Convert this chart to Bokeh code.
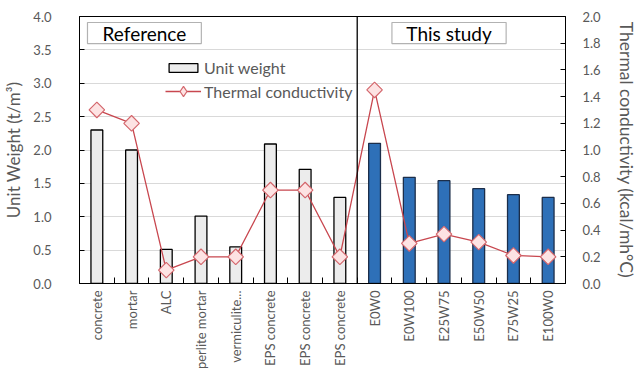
import math
from bokeh.plotting import figure
from bokeh.models import (Range1d, LinearAxis, FixedTicker, PrintfTickFormatter,
                          Span, BoxAnnotation, Label, Legend, LegendItem, ColumnDataSource)
from bokeh.embed import file_html
from bokeh.resources import INLINE

# ---------------- data ----------------
categories = ["concrete", "mortar", "ALC", "perlite mortar", "vermiculite...",
              "EPS concrete", "EPS concrete", "EPS concrete",
              "E0W0", "E0W100", "E25W75", "E50W50", "E75W25", "E100W0"]
groups = ["Reference"] * 8 + ["This study"] * 6
unit_weight = [2.30, 2.00, 0.51, 1.01, 0.55, 2.09, 1.71, 1.29,
               2.10, 1.59, 1.54, 1.42, 1.33, 1.29]
thermal_conductivity = [1.30, 1.20, 0.10, 0.20, 0.20, 0.70, 0.70, 0.20,
                        1.45, 0.30, 0.37, 0.31, 0.21, 0.20]
left_ticks = [0.0, 0.5, 1.0, 1.5, 2.0, 2.5, 3.0, 3.5, 4.0]
right_ticks = [0.0, 0.2, 0.4, 0.6, 0.8, 1.0, 1.2, 1.4, 1.6, 1.8, 2.0]
group_names = ["Reference", "This study"]
left_title = "Unit Weight (t/m\u00b3)"
right_title = "Thermal conductivity (kcal/mh\u00b0C)"

FONT = "Lato"
GREY = "#595959"

n = len(categories)
xs = [i + 0.5 for i in range(n)]

ref_idx = [i for i, g in enumerate(groups) if g == group_names[0]]
new_idx = [i for i, g in enumerate(groups) if g == group_names[1]]
ref_src = ColumnDataSource(dict(x=[xs[i] for i in ref_idx], top=[unit_weight[i] for i in ref_idx]))
new_src = ColumnDataSource(dict(x=[xs[i] for i in new_idx], top=[unit_weight[i] for i in new_idx]))
line_src = ColumnDataSource(dict(x=xs, y=thermal_conductivity))

p = figure(width=639, height=379, output_backend="svg", toolbar_location=None,
           x_range=Range1d(0, n), y_range=Range1d(left_ticks[0], left_ticks[-1]),
           min_border_left=78, min_border_right=72, min_border_top=16, min_border_bottom=96)
p.extra_y_ranges = {"tc": Range1d(right_ticks[0], right_ticks[-1])}
p.outline_line_color = "black"
p.outline_line_width = 1
p.background_fill_color = "white"
p.border_fill_color = "white"

# grid
p.xgrid.visible = False
p.ygrid.ticker = FixedTicker(ticks=left_ticks)
p.ygrid.grid_line_color = "#d9d9d9"
p.ygrid.grid_line_width = 1

# left axis
ya = p.yaxis[0]
ya.ticker = FixedTicker(ticks=left_ticks)
ya.formatter = PrintfTickFormatter(format="%.1f")
ya.axis_label = left_title
ya.major_tick_in = 5
ya.major_tick_out = 0
ya.minor_tick_line_color = None
ya.major_label_standoff = 28
ya.axis_label_standoff = 6
ya.axis_line_color = "black"
ya.major_tick_line_color = "black"
ya.major_label_text_font = FONT
ya.major_label_text_font_size = "13px"
ya.major_label_text_color = GREY
ya.axis_label_text_font = FONT
ya.axis_label_text_font_size = "17px"
ya.axis_label_text_font_style = "normal"
ya.axis_label_text_color = GREY

# right axis
ra = LinearAxis(y_range_name="tc", ticker=FixedTicker(ticks=right_ticks),
                formatter=PrintfTickFormatter(format="%.1f"),
                axis_label=right_title)
ra.major_tick_in = 5
ra.major_tick_out = 0
ra.minor_tick_line_color = None
ra.major_label_standoff = 17
ra.axis_label_standoff = 12
ra.axis_line_color = "black"
ra.major_label_text_font = FONT
ra.major_label_text_font_size = "13px"
ra.major_label_text_color = GREY
ra.axis_label_text_font = FONT
ra.axis_label_text_font_size = "17.5px"
ra.axis_label_text_font_style = "normal"
ra.axis_label_text_color = GREY
p.add_layout(ra, "right")

# bottom axis
xa = p.xaxis[0]
xa.ticker = FixedTicker(ticks=xs, minor_ticks=list(range(n + 1)))
xa.major_label_overrides = {x: c for x, c in zip(xs, categories)}
xa.major_label_orientation = math.pi / 2
xa.major_tick_in = 0
xa.major_tick_out = 0
xa.minor_tick_in = 6
xa.minor_tick_out = 0
xa.minor_tick_line_color = "black"
xa.major_label_standoff = 7
xa.axis_line_color = "black"
xa.major_label_text_font = FONT
xa.major_label_text_font_size = "13px"
xa.major_label_text_color = GREY

# bars
bw = 0.34
r_ref = p.vbar(x="x", top="top", width=bw, bottom=0, source=ref_src,
               fill_color="#ececec", line_color="black", line_width=1.3)
r_new = p.vbar(x="x", top="top", width=bw, bottom=0, source=new_src,
               fill_color="#2e70b8", line_color="#1c2e4a", line_width=1.3)

# divider
p.add_layout(Span(location=len(ref_idx), dimension="height", line_color="black", line_width=1.3))

# thermal conductivity line
r_line = p.line(x="x", y="y", source=line_src, y_range_name="tc",
                line_color="#c8474f", line_width=1.3)
# tiny diamond glyph (hidden under the markers) used for the legend swatch
r_leg_pt = p.scatter(x="x", y="y", source=line_src, y_range_name="tc", marker="diamond",
                     size=2, fill_color="#fde3e3", line_color="#d4676d", line_width=1.2)
r_pts = p.scatter(x="x", y="y", source=line_src, y_range_name="tc", marker="square",
                  angle=math.pi / 4, size=11, fill_color="#fde3e3",
                  line_color="#d4676d", line_width=1.2)

# group title boxes
box_specs = [(group_names[0], 0.23, 3.51), (group_names[1], 9.0, 12.29)]
for name, x0, x1 in box_specs:
    p.add_layout(BoxAnnotation(left=x0, right=x1, bottom=3.595, top=3.91,
                               fill_color="white", fill_alpha=1.0,
                               line_color="black", line_width=1.2))
    p.add_layout(Label(x=(x0 + x1) / 2, y=3.752, text=name, text_align="center",
                       text_baseline="middle", text_font=FONT, text_font_size="19px",
                       text_color="black"))

# legends
leg1 = Legend(items=[LegendItem(label="Unit weight", renderers=[r_ref])],
              location=(86, 206), glyph_width=36, glyph_height=11, label_height=16,
              label_standoff=3, padding=0, margin=0, spacing=0,
              background_fill_alpha=0, border_line_color=None,
              label_text_font=FONT, label_text_font_size="16px", label_text_color=GREY)
leg2 = Legend(items=[LegendItem(label="Thermal conductivity", renderers=[r_line, r_leg_pt])],
              location=(86, 179), glyph_width=36, glyph_height=26, label_height=16,
              label_standoff=3, padding=0, margin=0, spacing=0,
              background_fill_alpha=0, border_line_color=None,
              label_text_font=FONT, label_text_font_size="16px", label_text_color=GREY)
p.add_layout(leg1, "center")
p.add_layout(leg2, "center")

open("out.html", "w").write(file_html(p, INLINE))
